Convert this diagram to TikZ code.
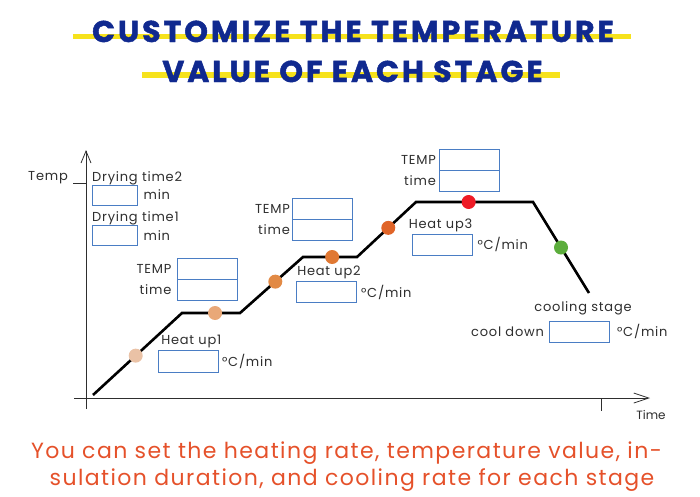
\documentclass[tikz,border=0pt]{standalone}
\usepackage{fontspec}
\setmainfont{Poppins}
\usepackage{tikz}
\usepackage{xcolor}
\usetikzlibrary{positioning, arrows.meta}

\definecolor{titleblue}{HTML}{10298F}
\definecolor{markyellow}{HTML}{F6E21C}
\definecolor{boxblue}{HTML}{4A7DC4}
\definecolor{txtgray}{HTML}{2E2E2E}
\definecolor{noteorange}{HTML}{E5512A}
\definecolor{dotA}{HTML}{EAC2A6}
\definecolor{dotB}{HTML}{E9A878}
\definecolor{dotC}{HTML}{E28A45}
\definecolor{dotD}{HTML}{E07833}
\definecolor{dotE}{HTML}{E06428}
\definecolor{dotF}{HTML}{EE1B26}
\definecolor{dotG}{HTML}{5CAD3C}

\tikzset{
  valbox/.style={draw=boxblue, line width=0.8pt, minimum width=60, minimum height=21, inner sep=0},
  smallbox/.style={valbox, minimum width=45, minimum height=20},
  lbl/.style={font=\fontsize{13}{15}\selectfont\addfontfeature{LetterSpace=6}, text=txtgray, inner sep=0},
  titletxt/.style={anchor=base, inner sep=0, text=titleblue, font=\fontsize{30}{32}\bfseries\selectfont\addfontfeature{LetterSpace=10, FakeBold=1.6}},
  notetxt/.style={anchor=base, inner sep=0, text=noteorange, font=\fontsize{22}{26}\selectfont\addfontfeature{LetterSpace=6.5}},
  stagedot/.style={circle, fill=#1, minimum size=14, inner sep=0},
  axis/.style={draw=txtgray, line width=0.8pt},
  curve/.style={line width=2.6pt, line join=miter}
}

\begin{document}
\begin{tikzpicture}[x=1pt, y=-1pt]
        \useasboundingbox (0,0) rectangle (700,496);

        % title
        \fill[markyellow] (73,34) rectangle (631,39);
        \fill[markyellow] (142,72) rectangle (560,78);
        \node[titletxt] (title1) at (353,42) {CUSTOMIZE THE TEMPERATURE};
        \node[titletxt] (title2) at (352.5,82) {VALUE OF EACH STAGE};

        % axes
        \coordinate (ybot) at (86,409);
        \coordinate (ytop) at (86,150);
        \coordinate (xleft) at (74,398);
        \coordinate (xright) at (650,398);
        \draw[axis, -{Straight Barb[length=12pt, width=10pt]}] (ybot) -- (ytop);
        \draw[axis, -{Straight Barb[length=15pt, width=10pt]}] (xleft) -- (xright);
        \coordinate (ttick) at (73,183);
        \coordinate (ttick2) at (86,183);
        \draw[axis] (ttick) -- (ttick2);
        \coordinate (xtick) at (601,398);
        \coordinate (xtick2) at (601,411);
        \draw[axis] (xtick) -- (xtick2);
        \node[lbl, anchor=east] (templbl) at (68,178) {Temp};
        \node[lbl, font=\fontsize{12}{14}\selectfont] (timelbl) at (651,415) {Time};

        % curve corners
        \coordinate (p0) at (93,395);
        \coordinate (p1) at (182,313);
        \coordinate (p2) at (240,313);
        \coordinate (p3) at (303,257);
        \coordinate (p4) at (357,257);
        \coordinate (p5) at (416,202);
        \coordinate (p6) at (533,202);
        \coordinate (p7) at (589,293);
        \draw[curve] (p0) -- node[stagedot=dotA, pos=.48] (d1) {} (p1)
            -- node[stagedot=dotB, pos=.57] (d2) {} (p2)
            -- node[stagedot=dotC, pos=.56] (d3) {} (p3)
            -- node[stagedot=dotD, pos=.54] (d4) {} (p4)
            -- node[stagedot=dotE, pos=.53] (d5) {} (p5)
            -- node[stagedot=dotF, pos=.45] (d6) {} (p6)
            -- node[stagedot=dotG, pos=.5] (d7) {} (p7);

        % drying
        \node[smallbox] (dry2) at (114.5,195) {};
        \node[smallbox] (dry1) at (114.5,235.5) {};
        \node[lbl, anchor=base west] (dry2lbl) at (92,181) {Drying time2};
        \node[lbl, anchor=base west] (dry1lbl) at (92,221) {Drying time1};
        \node[lbl, right=6pt of dry2] (dry2min) {min};
        \node[lbl, right=6pt of dry1] (dry1min) {min};

        % hold boxes
        \node[valbox] (tempA) at (207,268.5) {};
        \node[valbox] (timeA) at (207,289.5) {};
        \node[lbl, left=5pt of tempA] {TEMP};
        \node[lbl, left=5pt of timeA] {time};
        \node[valbox] (tempB) at (322.5,208.5) {};
        \node[valbox] (timeB) at (322.5,229.5) {};
        \node[lbl, left=2pt of tempB] {TEMP};
        \node[lbl, left=2pt of timeB] {time};
        \node[valbox] (tempC) at (469.5,159.5) {};
        \node[valbox] (timeC) at (469.5,180.5) {};
        \node[lbl, left=3pt of tempC] {TEMP};
        \node[lbl, left=3pt of timeC] {time};

        % rate boxes
        \node[valbox, minimum height=22] (rate1) at (188.5,361) {};
        \node[lbl, above right=2pt and 3pt of rate1.north west] {Heat up1};
        \node[lbl, right=3pt of rate1] {°C/min};
        \node[valbox] (rate2) at (326.5,292) {};
        \node[lbl, above right=2pt and 1pt of rate2.north west] {Heat up2};
        \node[lbl, right=4pt of rate2] {°C/min};
        \node[valbox] (rate3) at (442,244.5) {};
        \node[lbl, above right=2pt and -3pt of rate3.north west] {Heat up3};
        \node[lbl, right=5pt of rate3] {°C/min};
        \node[valbox] (cool) at (579.5,331.5) {};
        \node[lbl] (coollbl) at (583,308) {cooling stage};
        \node[lbl, left=5pt of cool] {cool down};
        \node[lbl, right=7pt of cool] {°C/min};

        % note
        \node[notetxt] (note1) at (346.5,458) {You can set the heating rate, temperature value, in-};
        \node[notetxt] (note2) at (352,485) {sulation duration, and cooling rate for each stage};
    \end{tikzpicture}
\end{document}
